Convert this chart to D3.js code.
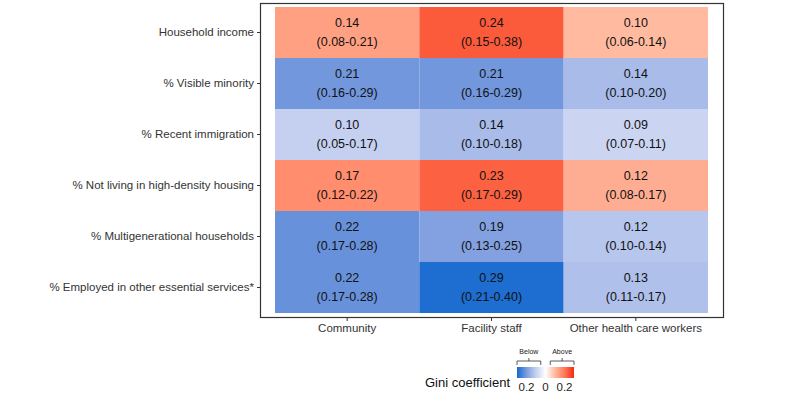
<!DOCTYPE html>
<html><head><meta charset="utf-8">
<script src="https://cdn.jsdelivr.net/npm/d3@7"></script>
<style>body{margin:0;background:#fff;font-family:"Liberation Sans",Arial,sans-serif;}</style>
</head><body><svg id="c" width="800" height="395"></svg>
<script>
const rows = ["Household income","% Visible minority","% Recent immigration","% Not living in high-density housing","% Multigenerational households","% Employed in other essential services*"];
const cols = ["Community","Facility staff","Other health care workers"];
// Gini coefficient estimates per row (Community, Facility staff, Other health care workers)
const gini = [[0.14,0.24,0.10],[0.21,0.21,0.14],[0.10,0.14,0.09],[0.17,0.23,0.12],[0.22,0.19,0.12],[0.22,0.29,0.13]];
const lower = [[0.08,0.15,0.06],[0.16,0.16,0.10],[0.05,0.10,0.07],[0.12,0.17,0.08],[0.17,0.13,0.10],[0.17,0.21,0.11]];
const upper = [[0.21,0.38,0.14],[0.29,0.29,0.20],[0.17,0.18,0.11],[0.22,0.29,0.17],[0.28,0.25,0.14],[0.28,0.40,0.17]];
// direction: +1 above, -1 below
const direction = [1,-1,-1,1,-1,-1];
const legendTicks = [-0.2,0,0.2];

const svg = d3.select("#c");
const px0=260, px1=723, py0=3, py1=317;
const x = d3.scaleBand().domain(cols).range([275,708]).padding(0);
const y = d3.scaleBand().domain(rows).range([7,313]).padding(0);
const color = d3.scaleLinear()
  .domain([-0.3,-0.2,-0.1,0,0.1,0.2,0.3])
  .range(["#1468CE","#7C9CDE","#C5D0F0","#FFFFFF","#FFBAA0","#FF7A58","#F52A10"])
  .clamp(true);

const cells=[];
rows.forEach((r,i)=>cols.forEach((c,j)=>cells.push({r,c,v:gini[i][j],lo:lower[i][j],hi:upper[i][j],s:direction[i]})));
const fmt=d3.format(".2f");

svg.append("g").selectAll("rect").data(cells).join("rect")
  .attr("x",d=>x(d.c)).attr("y",d=>y(d.r)).attr("width",x.bandwidth()).attr("height",y.bandwidth())
  .attr("fill",d=>color(d.s*d.v));

const tg=svg.append("g").attr("font-size",12.5).attr("fill","#111").attr("text-anchor","middle");
tg.selectAll("text.v").data(cells).join("text").attr("class","v")
  .attr("x",d=>x(d.c)+x.bandwidth()/2).attr("y",d=>y(d.r)+y.bandwidth()/2-8.5)
  .attr("dominant-baseline","middle").text(d=>fmt(d.v));
tg.selectAll("text.ci").data(cells).join("text").attr("class","ci")
  .attr("x",d=>x(d.c)+x.bandwidth()/2).attr("y",d=>y(d.r)+y.bandwidth()/2+10)
  .attr("dominant-baseline","middle").text(d=>`(${fmt(d.lo)}-${fmt(d.hi)})`);

svg.append("rect").attr("x",px0+0.5).attr("y",py0+0.5).attr("width",px1-px0).attr("height",py1-py0)
  .attr("fill","none").attr("stroke","#333").attr("stroke-width",1.2);

// y axis
const ya=svg.append("g").attr("transform",`translate(${px0},0)`).call(d3.axisLeft(y).tickSize(3).tickPadding(3));
ya.select(".domain").remove();
ya.selectAll("line").attr("stroke","#333");
ya.selectAll("text").attr("font-size",11.5).attr("fill","#333").attr("font-family","Liberation Sans, Arial, sans-serif");
// x axis
const xa=svg.append("g").attr("transform",`translate(0,${py1+1})`).call(d3.axisBottom(x).tickSize(3).tickPadding(3));
xa.select(".domain").remove();
xa.selectAll("line").attr("stroke","#333");
xa.selectAll("text").attr("font-size",11.5).attr("fill","#333").attr("font-family","Liberation Sans, Arial, sans-serif");

// legend
const lx = d3.scaleLinear().domain([-0.3,0.3]).range([517,574]);
const defs=svg.append("defs");
const grad=defs.append("linearGradient").attr("id","g1");
d3.range(0,1.0001,0.05).forEach(t=>grad.append("stop").attr("offset",t).attr("stop-color",color(-0.3+0.6*t)));
svg.append("rect").attr("x",lx(-0.3)).attr("y",367).attr("width",lx(0.3)-lx(-0.3)).attr("height",11).attr("fill","url(#g1)");
svg.append("g").selectAll("text").data(legendTicks).join("text")
  .attr("x",d=>lx(d)).attr("y",391).attr("text-anchor","middle").attr("font-size",11.5).attr("fill","#222")
  .text(d=>d3.format(".1~f")(Math.abs(d)));
svg.append("text").attr("x",510).attr("y",387).attr("text-anchor","end").attr("font-size",13).attr("fill","#111").text("Gini coefficient");
const br=[{t:"Below",a:-0.3,b:-0.05},{t:"Above",a:0.05,b:0.3}];
const bg=svg.append("g");
br.forEach(d=>{
  const a=lx(d.a),b=lx(d.b),m=(a+b)/2;
  bg.append("path").attr("d",`M${a},365V361H${b}V365M${m},361V358`).attr("fill","none").attr("stroke","#333").attr("stroke-width",0.8);
  bg.append("text").attr("x",m).attr("y",354).attr("text-anchor","middle").attr("font-size",7).attr("fill","#222").text(d.t);
});
</script></body></html>
